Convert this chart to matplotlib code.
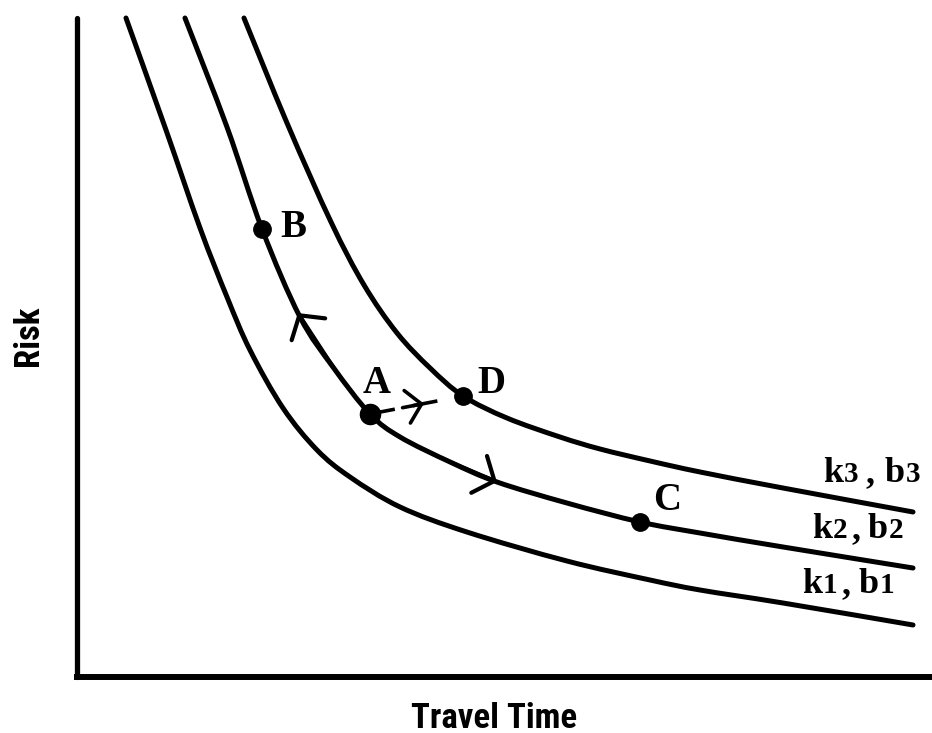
import matplotlib
matplotlib.use("Agg")
import matplotlib.pyplot as plt
from matplotlib import font_manager
from matplotlib.path import Path
from matplotlib.patches import PathPatch

# ---------------- data (arbitrary units 0-100) ----------------
curve1_x = [5.73, 10.41, 14.39, 17.54, 20.23, 24.09, 28.07, 31.93, 37.78, 45.61, 57.31, 67.02, 72.87, 82.57, 97.78]
curve1_y = [100.0, 83.0, 68.13, 57.67, 49.62, 40.82, 34.45, 30.35, 25.80, 22.00, 17.60, 14.72, 13.20, 11.23, 7.89]

curve2_x = [12.63, 17.54, 21.64, 26.08, 29.94, 34.27, 37.78, 43.63, 49.12, 57.31, 65.85, 72.87, 82.57, 97.78]
curve2_y = [100.0, 83.46, 67.98, 54.63, 47.04, 39.91, 36.42, 32.63, 29.59, 26.40, 23.52, 21.85, 19.73, 16.54]

curve3_x = [19.53, 24.56, 29.71, 33.57, 37.43, 41.29, 45.15, 50.29, 56.49, 61.17, 67.02, 72.87, 82.57, 97.78]
curve3_y = [100.0, 84.07, 69.04, 59.48, 52.20, 46.89, 42.64, 39.30, 36.42, 34.60, 32.78, 31.11, 28.68, 25.04]

point_names = ["A", "B", "C", "D"]
point_x = [34.27, 21.64, 65.85, 45.15]
point_y = [39.91, 67.98, 23.52, 42.64]

curve_labels = [("k", "3", "b", "3"), ("k", "2", "b", "2"), ("k", "1", "b", "1")]

x_label = "Travel Time"
y_label = "Risk"

# ---------------- figure ----------------
W, H = 932, 733
fig = plt.figure(figsize=(W / 100, H / 100), dpi=100)
ax = fig.add_axes([77 / W, (H - 677) / H, (W - 77) / W, (677 - 18) / H])
ax.set_xlim(0, 100)
ax.set_ylim(0, 100)
ax.set_xticks([])
ax.set_yticks([])
for s in ("top", "right"):
    ax.spines[s].set_visible(False)
ax.spines["left"].set_linewidth(3.8)
ax.spines["bottom"].set_linewidth(4.3)
ax.spines["left"].set_capstyle("round")
ax.patch.set_alpha(0)

lw = 3.6


def smooth_path(xs, ys):
    """Smooth drawing path (Catmull-Rom as cubic Bezier) through the read points."""
    pts = list(zip(xs, ys))
    n = len(pts)
    verts = [pts[0]]
    codes = [Path.MOVETO]
    for i in range(n - 1):
        p0 = pts[i - 1] if i > 0 else pts[i]
        p1 = pts[i]
        p2 = pts[i + 1]
        p3 = pts[i + 2] if i + 2 < n else pts[i + 1]
        c1 = (p1[0] + (p2[0] - p0[0]) / 6, p1[1] + (p2[1] - p0[1]) / 6)
        c2 = (p2[0] - (p3[0] - p1[0]) / 6, p2[1] - (p3[1] - p1[1]) / 6)
        verts += [c1, c2, p2]
        codes += [Path.CURVE4] * 3
    return Path(verts, codes)


for cx, cy in ((curve1_x, curve1_y), (curve2_x, curve2_y), (curve3_x, curve3_y)):
    patch = PathPatch(smooth_path(cx, cy), fill=False, edgecolor="black", lw=lw,
                      capstyle="round", joinstyle="round", clip_on=False)
    ax.add_patch(patch)

# dashed A -> D
iA, iD = point_names.index("A"), point_names.index("D")
ax.plot([point_x[iA], point_x[iD]], [point_y[iA], point_y[iD]], color="black",
        lw=2.6, ls=(0, (7, 5)))


def chevron(tip, tail, ms=20, hl=0.6, hw=0.72, lw_=3.0):
    ax.annotate("", xy=tip, xytext=tail,
                arrowprops=dict(arrowstyle=f"->,head_length={hl},head_width={hw}",
                                color="black", lw=lw_, mutation_scale=ms,
                                shrinkA=0, shrinkB=0, capstyle="round"))


# arrow along curve 2 towards B
chevron((curve2_x[3] - 0.25, curve2_y[3] + 0.6), (curve2_x[4], curve2_y[4]))
# arrow along curve 2 towards C
chevron((curve2_x[8], curve2_y[8]), (curve2_x[7], curve2_y[7]))
# arrow on dashed A -> D
mx = point_x[iA] + 0.58 * (point_x[iD] - point_x[iA])
my = point_y[iA] + 0.58 * (point_y[iD] - point_y[iA])
chevron((mx, my), (point_x[iA] + 0.35 * (point_x[iD] - point_x[iA]),
                   point_y[iA] + 0.35 * (point_y[iD] - point_y[iA])),
        ms=14, hl=0.75, hw=0.85, lw_=2.6)

# points
sizes = {"A": 14.5, "B": 12.5, "C": 12.5, "D": 12.5}
offsets = {"A": (7, 21, "center"), "B": (18, -8, "left"),
           "C": (13, 12, "left"), "D": (14, 3, "left")}
serif = "Liberation Serif"
for n, x, y in zip(point_names, point_x, point_y):
    ax.plot([x], [y], "o", color="black", ms=sizes[n], zorder=5)
    dx, dy, ha = offsets[n]
    ax.annotate(n, (x, y), xytext=(dx, dy), textcoords="offset pixels",
                ha=ha, va="baseline", fontsize=28, fontweight="bold",
                family=serif, color="black")

# curve labels (k_i, b_i) placed in pixel layout
rows = [
    (482, [823, 844, 866, 885, 906]),
    (538, [812, 833, 851, 868, 889]),
    (593, [802, 823, 842, 859, 880]),
]
for (base, xs), (k, d1, b, d2) in zip(rows, curve_labels):
    pieces = [(k, 26), (d1, 21), (",", 26), (b, 26), (d2, 21)]
    for (t, fs), xp in zip(pieces, xs):
        fig.text(xp / W, 1 - base / H, t, fontsize=fs, fontweight="bold",
                 family=serif, ha="left", va="baseline")

# axis labels font
cond = None
for cand in ["Liberation Sans Narrow", "Roboto Condensed", "DejaVu Sans Condensed",
             "Open Sans Condensed", "Roboto", "Liberation Sans"]:
    try:
        font_manager.findfont(font_manager.FontProperties(family=cand, weight="bold"),
                              fallback_to_default=False)
        cond = cand
        break
    except Exception:
        pass
if cond is None:
    cond = "DejaVu Sans"

fig.text(494 / W, 1 - 718 / H, x_label, fontsize=25, fontweight=900,
         family=cond, ha="center", va="center")
fig.text(29 / W, 1 - 336 / H, y_label, fontsize=25, fontweight=900,
         family=cond, ha="center", va="center", rotation=90)

fig.savefig("out.png", dpi=100, facecolor="white")
